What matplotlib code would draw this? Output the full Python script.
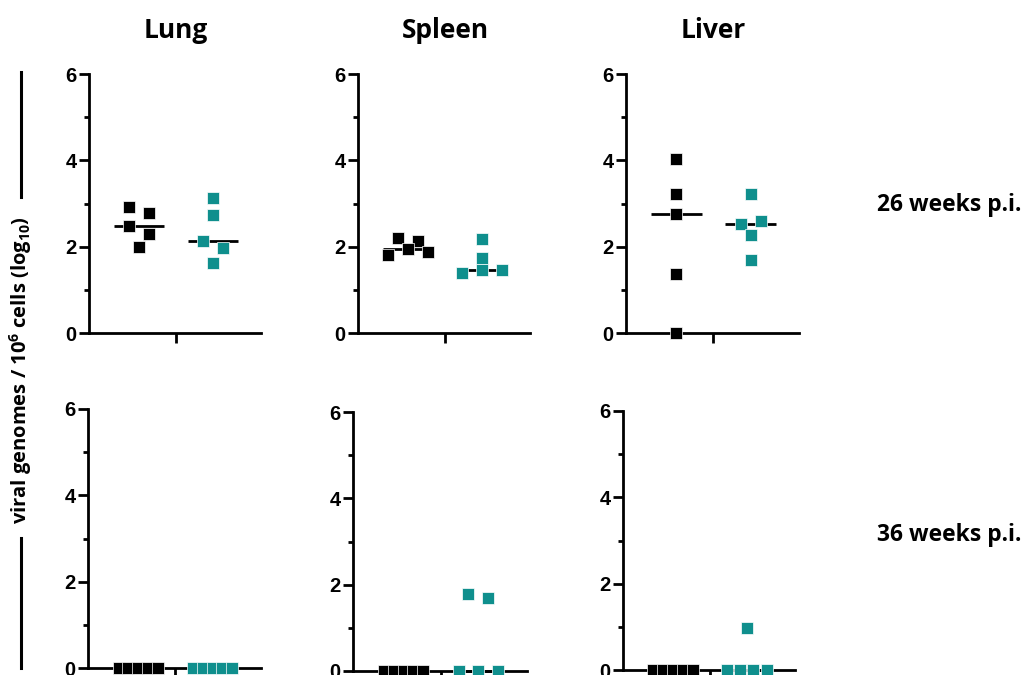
import numpy as np
import matplotlib
matplotlib.use("Agg")
import matplotlib.pyplot as plt
from matplotlib.lines import Line2D
from matplotlib.ticker import FixedLocator, NullFormatter

# tick labels: Arial-like bold digits
plt.rcParams["font.family"] = ["Liberation Sans", "DejaVu Sans"]
plt.rcParams["font.weight"] = "bold"
plt.rcParams["mathtext.fontset"] = "custom"
plt.rcParams["mathtext.rm"] = "Open Sans:bold"
plt.rcParams["mathtext.it"] = "Open Sans:bold"
plt.rcParams["mathtext.bf"] = "Open Sans:bold"

# ---- data: log10 viral genomes per 10^6 cells, five animals per group ----
organs = ["Lung", "Spleen", "Liver"]
timepoints = ["26 weeks p.i.", "36 weeks p.i."]

lung_26_black = [2.93, 2.78, 2.49, 2.29, 1.99]
lung_26_teal = [3.12, 2.74, 2.12, 1.97, 1.62]
spleen_26_black = [2.21, 2.14, 1.81, 1.94, 1.87]
spleen_26_teal = [2.18, 1.73, 1.40, 1.45, 1.45]
liver_26_black = [4.02, 3.21, 2.76, 1.36, 0.0]
liver_26_teal = [3.21, 2.53, 2.60, 2.27, 1.70]

lung_36_black = [0.0, 0.0, 0.0, 0.0, 0.0]
lung_36_teal = [0.0, 0.0, 0.0, 0.0, 0.0]
spleen_36_black = [0.0, 0.0, 0.0, 0.0, 0.0]
spleen_36_teal = [0.0, 1.78, 0.0, 1.68, 0.0]
liver_36_black = [0.0, 0.0, 0.0, 0.0, 0.0]
liver_36_teal = [0.0, 0.0, 0.97, 0.0, 0.0]

panels = [
    [(lung_26_black, lung_26_teal), (spleen_26_black, spleen_26_teal), (liver_26_black, liver_26_teal)],
    [(lung_36_black, lung_36_teal), (spleen_36_black, spleen_36_teal), (liver_36_black, liver_36_teal)],
]

group_colors = ["#000000", "#0f8f8d"]
y_major = [0, 2, 4, 6]
y_minor = [1, 3, 5]

# ---- layout ----
W, H = 1023, 675
fig = plt.figure(figsize=(W / 100, H / 100), dpi=100)

# axes boxes in pixels: (left, y of value 0, y of value 6, right)
boxes = [
    [(89, 333, 74, 261), (358, 333, 74, 530), (626, 333, 74, 799)],
    [(88, 668, 409, 261), (353, 671, 412, 527), (623, 670, 411, 795)],
]

LABEL_FONT = ["Open Sans", "DejaVu Sans"]
LW = 2.0


def swarm_offsets(values, row_gap=0.25, step=0.27, max_half=0.265):
    """Spread points of similar value sideways, GraphPad-style."""
    vals = np.asarray(values, float)
    order = np.argsort(-vals, kind="stable")
    rows = []
    for idx in order:
        if rows and vals[rows[-1][0]] - vals[idx] < row_gap:
            rows[-1].append(idx)
        else:
            rows.append([idx])
    offs = np.zeros(len(vals))
    for row in rows:
        row = sorted(row)
        n = len(row)
        if n == 1:
            continue
        s = min(step, 2 * max_half / (n - 1))
        for i, idx in enumerate(row):
            offs[idx] = (i - (n - 1) / 2) * s
    return offs


for r in range(2):
    for c in range(3):
        left, y0, y6, right = boxes[r][c]
        ax = fig.add_axes([left / W, 1 - y0 / H, (right - left) / W, (y0 - y6) / H])
        ax.set_ylim(0, 6)
        ax.set_xlim(0.325, 2.65)
        for side in ("top", "right"):
            ax.spines[side].set_visible(False)
        for side in ("left", "bottom"):
            ax.spines[side].set_linewidth(LW)
            ax.spines[side].set_capstyle("projecting")
        ax.yaxis.set_major_locator(FixedLocator(y_major))
        ax.yaxis.set_minor_locator(FixedLocator(y_minor))
        ax.yaxis.set_minor_formatter(NullFormatter())
        ax.set_yticklabels([str(v) for v in y_major])
        ax.tick_params(axis="y", which="major", length=7, width=LW, pad=2,
                       direction="out", labelsize=14.5)
        ax.tick_params(axis="y", which="minor", length=3.5, width=LW, direction="out")
        ax.set_xticks([1.5])
        ax.set_xticklabels([""])
        ax.tick_params(axis="x", which="major", length=7, width=LW, direction="out")
        ax.patch.set_alpha(0)

        for g, (vals, color) in enumerate(zip(panels[r][c], group_colors)):
            x_center = g + 1
            xs = x_center + swarm_offsets(vals)
            med = np.median(vals)
            ax.plot([x_center - 0.34, x_center + 0.34], [med, med], color="black",
                    lw=LW, solid_capstyle="butt", zorder=3, clip_on=False)
            ax.plot(xs, vals, linestyle="none", marker="s", markersize=8.8,
                    markerfacecolor=color, markeredgecolor="white", markeredgewidth=0.5,
                    zorder=4, clip_on=False)

        if r == 0:
            cx = (left + (right - left) * (1.5 - 0.325) / (2.65 - 0.325)) / W
            fig.text(cx, 1 - 38 / H, organs[c], ha="center", va="baseline",
                     family=LABEL_FONT, weight="bold", fontsize=19)

# time point labels on the right
fig.text(877 / W, 1 - 211 / H, timepoints[0], ha="left", va="baseline",
         family=LABEL_FONT, weight="bold", fontsize=16.5)
fig.text(877 / W, 1 - 541 / H, timepoints[1], ha="left", va="baseline",
         family=LABEL_FONT, weight="bold", fontsize=16.5)

# shared y-axis title flanked by vertical rules
fig.text(21 / W, 1 - 370 / H, r"viral genomes / 10$^{6}$ cells (log$_{10}$)",
         rotation=90, ha="center", va="center", family=LABEL_FONT,
         weight="bold", fontsize=14.5)
fig.add_artist(Line2D([21 / W, 21 / W], [1 - 72 / H, 1 - 197 / H], color="black", lw=2.2))
fig.add_artist(Line2D([21 / W, 21 / W], [1 - 538 / H, 1 - 668 / H], color="black", lw=2.2))

fig.savefig("out.png", dpi=100)
